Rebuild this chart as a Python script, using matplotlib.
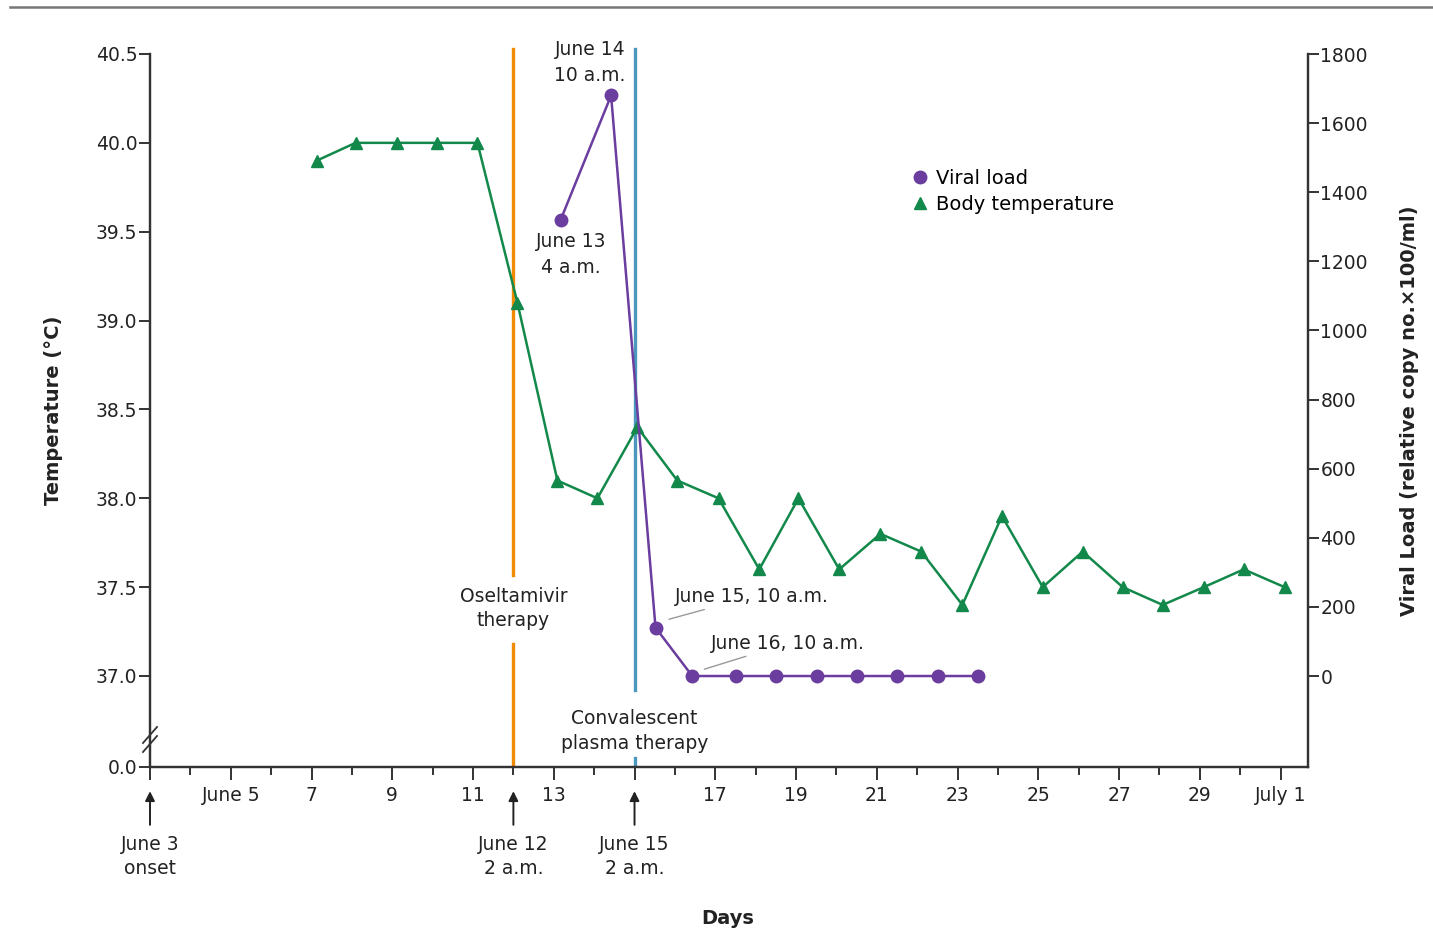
import matplotlib.pyplot as plt
from matplotlib.lines import Line2D
import numpy as np

# body temperature (day of June, deg C)
temp_days = [7.13, 8.09, 9.11, 10.1, 11.11, 12.1, 13.09, 14.08, 15.07, 16.06, 17.08, 18.09,
             19.06, 20.07, 21.09, 22.1, 23.12, 24.1, 25.11, 26.1, 27.09, 28.08, 29.1, 30.09, 31.1]
temps = [39.9, 40.0, 40.0, 40.0, 40.0, 39.1, 38.1, 38.0, 38.4, 38.1, 38.0, 37.6,
         38.0, 37.6, 37.8, 37.7, 37.4, 37.9, 37.5, 37.7, 37.5, 37.4, 37.5, 37.6, 37.5]

# viral load (relative copy no. x100/ml)
vl_days = [13.17, 14.42, 15.52, 16.43, 17.52, 18.51, 19.52, 20.51, 21.5, 22.52, 23.51]
vl = [1320, 1680, 140, 0, 0, 0, 0, 0, 0, 0, 0]

temp_ticks = [37.0, 37.5, 38.0, 38.5, 39.0, 39.5, 40.0, 40.5]
vl_ticks = [0, 200, 400, 600, 800, 1000, 1200, 1400, 1600, 1800]
day_major = list(range(3, 32, 2))
day_labels = ['', 'June 5', '7', '9', '11', '13', '', '17', '19', '21', '23', '25', '27', '29', 'July 1']

oseltamivir_day = 12
plasma_day = 15

GREEN = '#12894a'
PURPLE = '#6a3d9e'
ORANGE = '#f08a00'
BLUE = '#4b97bd'
TXT = '#222222'

plt.rcParams['font.family'] = ['DejaVu Sans']
plt.rcParams['font.size'] = 13.5

fig = plt.figure(figsize=(14.33, 9.34), dpi=100)
ax = fig.add_axes([150/1433, 1-767/934, (1308-150)/1433, (767-54)/934])
ax2 = ax.twinx()

# broken temperature axis: 0.0 sits below 37.0
t_bottom = 37.0 - 91/177.7
ax.set_ylim(t_bottom, 40.5)
ax.set_yticks([t_bottom] + temp_ticks)
ax.set_yticklabels(['0.0'] + ['%.1f' % t for t in temp_ticks])
ax2.set_ylim(-91/0.3456, 1800)
ax2.set_yticks(vl_ticks)
ax.set_xlim(3, 31.68)
ax.set_xticks(day_major)
ax.set_xticklabels(day_labels)
ax.set_xticks(range(4, 31, 2), minor=True)

for a in (ax, ax2):
    a.spines['top'].set_visible(False)
    for s in a.spines.values():
        s.set_linewidth(1.6)
        s.set_color('#333333')
ax.tick_params(axis='y', direction='out', length=8, width=1.4, color='#333333', labelcolor=TXT, pad=1)
ax2.tick_params(axis='y', direction='out', length=8, width=1.4, color='#333333', labelcolor=TXT, pad=1)
ax.tick_params(axis='x', which='major', direction='out', length=9, width=1.4, color='#333333',
               labelcolor=TXT, pad=5)
ax.tick_params(axis='x', which='minor', direction='out', length=6, width=1.4, color='#333333')

# therapy lines
ax.plot([oseltamivir_day]*2, [t_bottom, 37.18], color=ORANGE, lw=2.4, zorder=2)
ax.plot([oseltamivir_day]*2, [37.57, 40.53], color=ORANGE, lw=2.4, zorder=2, clip_on=False)
ax.plot([plasma_day]*2, [36.92, 40.53], color=BLUE, lw=2.4, zorder=2, clip_on=False)
ax.plot([plasma_day]*2, [t_bottom, 36.54], color=BLUE, lw=2.4, zorder=2)

ax.text(oseltamivir_day, 37.38, 'Oseltamivir\ntherapy', ha='center', va='center', color=TXT,
        linespacing=1.35)
ax.text(plasma_day, 36.69, 'Convalescent\nplasma therapy', ha='center', va='center', color=TXT,
        linespacing=1.35)

# series
ax.plot(temp_days, temps, color=GREEN, lw=1.8, marker='^', ms=8, zorder=3)
ax2.plot(vl_days, vl, color=PURPLE, lw=1.8, marker='o', ms=9, zorder=4)

ax2.text(13.9, 1775, 'June 14\n10 a.m.', ha='center', va='center', color=TXT, linespacing=1.45)
ax2.text(13.43, 1285, 'June 13\n4 a.m.', ha='center', va='top', color=TXT, linespacing=1.45)
ax2.annotate('June 15, 10 a.m.', xy=(15.72, 160), xytext=(16.0, 230), color=TXT,
             ha='left', va='center',
             arrowprops=dict(arrowstyle='-', color='#999999', lw=1, shrinkA=2, shrinkB=4))
ax2.annotate('June 16, 10 a.m.', xy=(16.6, 15), xytext=(16.9, 95), color=TXT,
             ha='left', va='center',
             arrowprops=dict(arrowstyle='-', color='#999999', lw=1, shrinkA=2, shrinkB=4))

# axis break marks on the left spine
for dy in (0, 9):
    fig.add_artist(Line2D([143/1433, 157/1433], [1-(752-dy)/934, 1-(736-dy)/934],
                          color='#333333', lw=1.3))

ax.set_ylabel('Temperature (°C)', fontweight='bold', color=TXT, fontsize=14, labelpad=24)
ax2.set_ylabel('Viral Load (relative copy no.×100/ml)', fontweight='bold', color=TXT,
               fontsize=14, labelpad=23)
fig.text(728/1433, 1-918/934, 'Days', ha='center', va='center', fontweight='bold',
         color=TXT, fontsize=14)

# arrows and labels under the axis
for d, lab in [(3, 'June 3\nonset'), (oseltamivir_day, 'June 12\n2 a.m.'), (plasma_day, 'June 15\n2 a.m.')]:
    ax.annotate('', xy=(d, -0.03), xytext=(d, -0.085), xycoords=('data', 'axes fraction'),
                textcoords=('data', 'axes fraction'),
                arrowprops=dict(arrowstyle='-|>', color='#222222', lw=1.4, mutation_scale=14))
    ax.text(d, -0.126, lab, transform=ax.get_xaxis_transform(), ha='center', va='center',
            color=TXT, linespacing=1.35)

handles = [Line2D([], [], color=PURPLE, marker='o', lw=0, ms=9),
           Line2D([], [], color=GREEN, marker='^', lw=0, ms=8)]
fig.legend(handles, ['Viral load', 'Body temperature'], loc='upper left',
           bbox_to_anchor=(891/1433, 1-151/934), frameon=False, handletextpad=0.2,
           labelspacing=0.4, handlelength=1.2, fontsize=14)

fig.add_artist(Line2D([0.007, 1], [1-7/934, 1-7/934], color='#777777', lw=1.8))

fig.savefig('out.png', dpi=100)
